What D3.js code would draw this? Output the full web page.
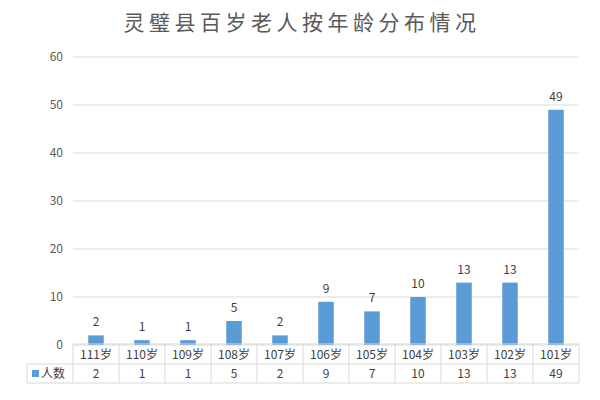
<!DOCTYPE html><html><head><meta charset="utf-8"><script src="https://cdn.jsdelivr.net/npm/d3@7"></script>
<style>body{margin:0;background:#fff}text{font-family:"Microsoft YaHei","Noto Sans CJK SC",sans-serif}</style></head><body>
<svg id="c" width="600" height="400"></svg>
<script>
const categories=["111岁","110岁","109岁","108岁","107岁","106岁","105岁","104岁","103岁","102岁","101岁"];
const values=[2,1,1,5,2,9,7,10,13,13,49];
const yTicks=[0,10,20,30,40,50,60];
const seriesName="人数";
const title="灵璧县百岁老人按年龄分布情况";
const svg=d3.select("#c");
const L=73,R=579,T=57,B=345;
const x=d3.scaleBand().domain(categories).range([L,R]);
const y=d3.scaleLinear().domain([0,60]).range([B,T]);
svg.append("text").attr("x",302).attr("y",30).attr("text-anchor","middle").attr("font-size",21).attr("letter-spacing",4.5).attr("fill","#595959").text(title);
svg.selectAll(".g").data(yTicks).join("line").attr("x1",L).attr("x2",R).attr("y1",d=>y(d)).attr("y2",d=>y(d)).attr("stroke","#d9d9d9");
svg.selectAll(".yl").data(yTicks).join("text").attr("x",L-10).attr("y",d=>y(d)+4).attr("text-anchor","end").attr("font-size",12).attr("fill","#595959").text(d=>d);
const bw=15.5;
svg.selectAll(".b").data(values).join("rect").attr("x",(d,i)=>x(categories[i])+x.bandwidth()/2-bw/2).attr("y",d=>y(d)).attr("width",bw).attr("height",d=>B-y(d)).attr("fill","#5b9bd5");
svg.selectAll(".bl").data(values).join("text").attr("x",(d,i)=>x(categories[i])+x.bandwidth()/2).attr("y",d=>y(d)-9).attr("text-anchor","middle").attr("font-size",12).attr("fill","#404040").text(d=>d);
const r1=344,r2=364,r3=383,LL=27;
const g=svg.append("g").attr("stroke","#d9d9d9").attr("fill","none");
g.append("line").attr("x1",L).attr("x2",R).attr("y1",r1).attr("y2",r1);
g.append("line").attr("x1",LL).attr("x2",R).attr("y1",r2).attr("y2",r2);
g.append("line").attr("x1",LL).attr("x2",R).attr("y1",r3).attr("y2",r3);
g.append("line").attr("x1",LL).attr("x2",LL).attr("y1",r2).attr("y2",r3);
categories.forEach(c=>g.append("line").attr("x1",x(c)).attr("x2",x(c)).attr("y1",r1).attr("y2",r3));
g.append("line").attr("x1",R).attr("x2",R).attr("y1",r1).attr("y2",r3);
svg.selectAll(".cl").data(categories).join("text").attr("x",d=>x(d)+x.bandwidth()/2).attr("y",r1+15).attr("text-anchor","middle").attr("font-size",12).attr("fill","#404040").text(d=>d);
svg.selectAll(".vl").data(values).join("text").attr("x",(d,i)=>x(categories[i])+x.bandwidth()/2).attr("y",r2+14).attr("text-anchor","middle").attr("font-size",12).attr("fill","#404040").text(d=>d);
svg.append("rect").attr("x",LL+5).attr("y",r2+6).attr("width",7).attr("height",7).attr("fill","#5b9bd5");
svg.append("text").attr("x",LL+14).attr("y",r2+14).attr("font-size",12).attr("fill","#404040").text(seriesName);
</script></body></html>
